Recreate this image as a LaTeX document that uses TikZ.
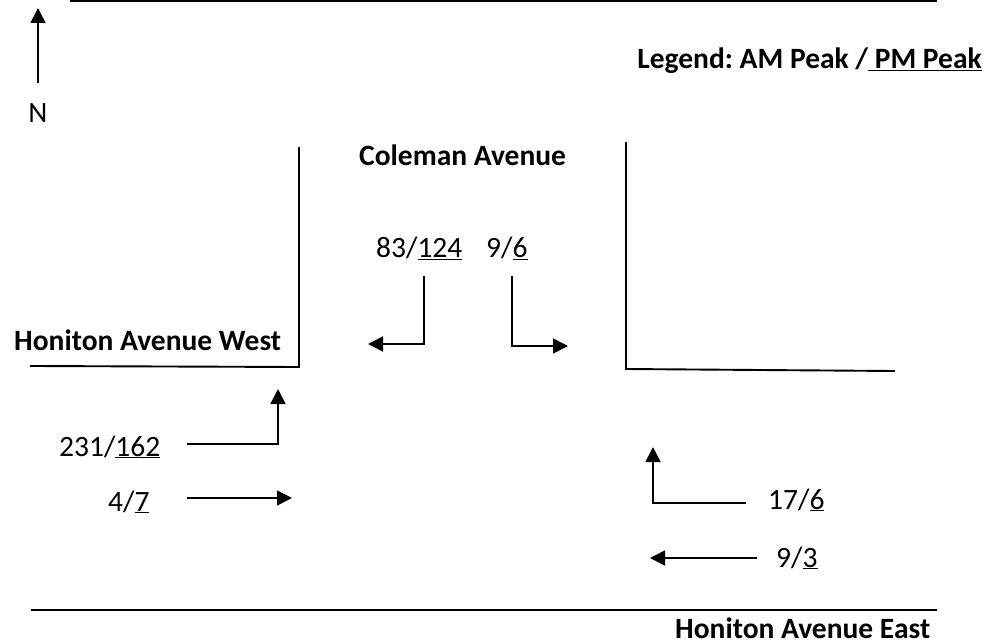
\documentclass[tikz,border=0pt]{standalone}
\usepackage{fontspec}
\setmainfont{Carlito}
\frenchspacing
\usetikzlibrary{arrows.meta}
\tikzset{
  road/.style={line width=1.9pt, line cap=rect},
  flow/.style={line width=1.7pt, -{Triangle[length=15pt,width=15pt]}},
  lbl/.style={anchor=base west, inner sep=0pt, font=\fontsize{29.5}{34}\selectfont},
  blbl/.style={lbl, font=\fontsize{29.5}{34}\selectfont\bfseries},
}
\begin{document}
\begin{tikzpicture}[x=1pt,y=-1pt]
\useasboundingbox (0,0) rectangle (990,644);
% roads
\draw[road] (71,1) -- (936,1);
\draw[road] (299,148) -- (299,367) -- (31,366);
\draw[road] (626,143) -- (626,369) -- (894,371);
\draw[road] (32,610) -- (936,610);
% north arrow
\coordinate (n0) at (38,83);
\coordinate (n1) at (38,8);
\draw[flow] (n0) -- (n1);
\node[lbl, anchor=base] (N) at (38,123) {N};
% labels
\node[blbl, anchor=base east] (legend) at (982,69) {Legend: AM Peak /\underline{ PM Peak}};
\node[blbl] (coleman) at (359,166) {Coleman Avenue};
\node[blbl] (hw) at (14,350) {Honiton Avenue West};
\node[blbl] (he) at (675,638) {Honiton Avenue East};
\node[lbl] (t1) at (376,258) {83/\underline{124}};
\node[lbl] (t2) at (486,258) {9/\underline{6}};
\node[lbl] (t3) at (59,456) {231/\underline{162}};
\node[lbl] (t4) at (108,511) {4/\underline{7}};
\node[lbl] (t5) at (768,509) {17/\underline{6}};
\node[lbl] (t6) at (776,567) {9/\underline{3}};
% movement arrows
\coordinate (a1s) at (424,276); \coordinate (a1c) at (424,344); \coordinate (a1e) at (368,344);
\draw[flow] (a1s) -- (a1c) -- (a1e);
\coordinate (a2s) at (512,276); \coordinate (a2c) at (512,346); \coordinate (a2e) at (568,346);
\draw[flow] (a2s) -- (a2c) -- (a2e);
\coordinate (a3s) at (187,444); \coordinate (a3c) at (278,444); \coordinate (a3e) at (278,389);
\draw[flow] (a3s) -- (a3c) -- (a3e);
\coordinate (a4s) at (187,498); \coordinate (a4e) at (292,498);
\draw[flow] (a4s) -- (a4e);
\coordinate (a5s) at (746,503); \coordinate (a5c) at (653,503); \coordinate (a5e) at (653,447);
\draw[flow] (a5s) -- (a5c) -- (a5e);
\coordinate (a6s) at (757,558); \coordinate (a6e) at (650,558);
\draw[flow] (a6s) -- (a6e);
\end{tikzpicture}
\end{document}
